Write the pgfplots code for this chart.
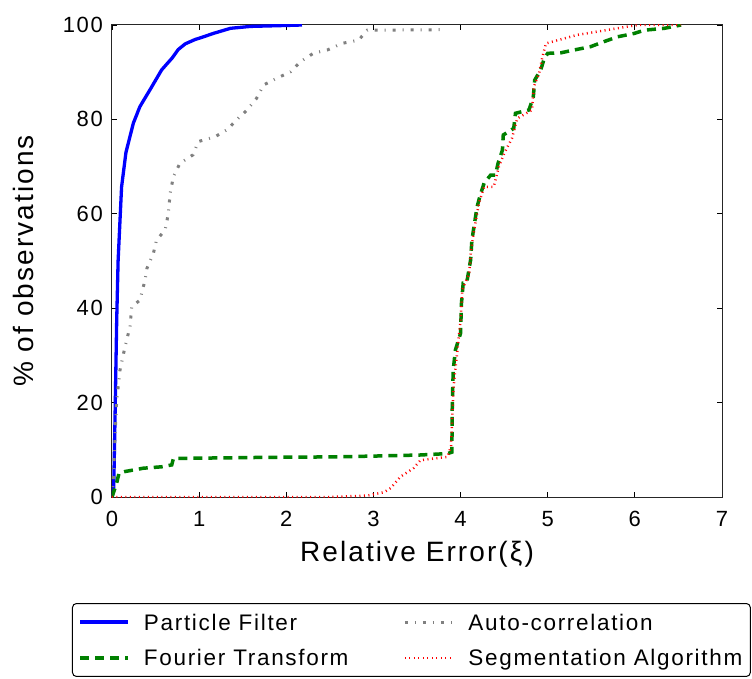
\documentclass[border=0pt]{standalone}
\usepackage{pgfplots}
\pgfplotsset{compat=1.18}
\usepackage{fontspec}
\setmainfont{Liberation Sans}[LetterSpace=7.5]
\definecolor{mplblue}{RGB}{0,0,255}
\definecolor{mplgreen}{RGB}{0,128,0}
\definecolor{mplgray}{RGB}{128,128,128}
\definecolor{mplred}{RGB}{255,0,0}
\begin{document}
\begin{tikzpicture}
\begin{axis}[
  scale only axis,
  width=610bp, height=472bp,
  xmin=0, xmax=7, ymin=0, ymax=100,
  xtick={0,1,2,3,4,5,6,7},
  ytick={0,20,40,60,80,100},
  /pgf/number format/assume math mode=true,
  tick align=inside,
  major tick length=5bp,
  tick style={black, line width=0.8bp},
  axis line style={black!85, line width=1bp},
  ticklabel style={font=\fontsize{22bp}{26bp}\selectfont},
  xticklabel style={anchor=base, yshift=-29bp},
  yticklabel style={anchor=east, inner sep=0pt, xshift=-9bp},
  label style={font=\fontsize{28bp}{32bp}\selectfont},
  xlabel={Relative Error(ξ)},
  ylabel={\% of observations},
  xlabel style={at={(axis description cs:0.5,-0.1377)}, anchor=base},
  ylabel style={at={(axis description cs:-0.1443,0.5)}, anchor=center, rotate=0},
  legend columns=2,
  legend cell align=left,
  legend image code/.code={\draw[#1] (0bp,0bp) -- (48bp,0bp);},
  legend style={
    at={(axis description cs:-0.0656,-0.2246)}, anchor=north west,
    draw=black, line width=1bp, rounded corners=4bp,
    inner xsep=6bp, inner ysep=7bp,
    font=\fontsize{22.5bp}{25bp}\selectfont,
    row sep=13bp,
    /tikz/every even column/.append style={column sep=53bp},
    /tikz/every odd column/.append style={column sep=12bp},
  },
]
\addplot[mplblue, line width=3.3bp, line join=round] coordinates {
(0,0) (0.02,2) (0.034,16) (0.054,37.5) (0.07,50) (0.092,58.7) (0.11,65.7)
(0.16,73) (0.245,79.2) (0.32,82.7) (0.44,86.4) (0.57,90.5) (0.69,93)
(0.76,94.8) (0.84,96) (0.95,96.9) (1.05,97.5) (1.16,98.2) (1.36,99.3) (1.59,99.7)
(2.0,99.9) (2.18,100)
};
\addlegendentry{\strut Particle Filter}
\addplot[mplgray, line width=3bp, dash pattern=on 3bp off 7bp on 1bp off 7bp] coordinates {
(0,0) (0.02,5) (0.034,12.8) (0.054,20.5) (0.092,26.9) (0.149,31.8) (0.207,36.1)
(0.226,40.3) (0.32,41.7) (0.38,46) (0.40,48.4) (0.475,51.6) (0.51,54.4)
(0.61,56.6) (0.647,60.1) (0.667,64.3) (0.705,67.9) (0.78,70.7) (0.93,72.5)
(0.99,75.3) (1.18,76.3) (1.32,77.8) (1.43,79.9) (1.55,82) (1.66,84.5)
(1.74,87.3) (1.89,88.7) (2.05,90.1) (2.16,92.2) (2.31,94) (2.47,94.7)
(2.64,96.1) (2.83,96.8) (2.93,98.9) (3.77,99) (3.8,100)
};
\addlegendentry{\strut Auto-correlation}
\addplot[mplgreen, line width=3.5bp, dash pattern=on 9bp off 6bp] coordinates {
(0,0) (0.015,0.8) (0.054,3) (0.08,5) (0.15,5.4) (0.36,6.1) (0.57,6.4)
(0.686,6.8) (0.705,8.2) (0.86,8.2) (1.78,8.4) (2.54,8.5) (3.08,8.7)
(3.54,8.9) (3.85,9.2) (3.90,9.5) (3.905,19.8) (3.916,26.9) (3.94,31.1)
(4.0,34.7) (4.01,41) (4.03,45.3) (4.07,45.3) (4.115,50.2) (4.13,54.4)
(4.16,58) (4.19,61.5) (4.22,63.6) (4.27,66.5) (4.345,68.2) (4.40,68.2)
(4.43,70.7) (4.48,73.5) (4.49,76.7) (4.61,78.1) (4.63,81.3) (4.785,82)
(4.835,84.8) (4.85,88.3) (4.92,90.5) (4.96,92.9) (5.0,94) (5.15,94.1)
(5.30,94.7) (5.49,95.4) (5.65,96.5) (5.80,97.5) (5.99,98.2) (6.11,98.9)
(6.34,99.3) (6.53,100)
};
\addlegendentry{\strut Fourier Transform}
\addplot[mplred, line width=2.5bp, dash pattern=on 1bp off 3.5bp] coordinates {
(0,0) (2.5,0) (2.93,0.3) (3.12,1) (3.2,1.9) (3.31,4.3) (3.46,6.1) (3.54,7.8)
(3.85,8.5) (3.89,10.7) (3.92,23.4) (3.96,30.4) (4.0,37.5) (4.02,43.9)
(4.10,47.4) (4.12,52.3) (4.15,55.9) (4.21,62.2) (4.27,65.7) (4.38,65.7)
(4.44,70) (4.50,72.8) (4.59,76) (4.65,80.2) (4.82,82) (4.84,86.9)
(4.90,89.7) (4.94,93.3) (4.98,96.1) (5.34,97.9) (5.80,99.3) (6.03,100)
(6.53,100)
};
\addlegendentry{\strut Segmentation Algorithm}
\end{axis}
\pgfresetboundingbox
\path (-112bp,-182bp) rectangle (640bp,497bp);
\end{tikzpicture}
\end{document}
